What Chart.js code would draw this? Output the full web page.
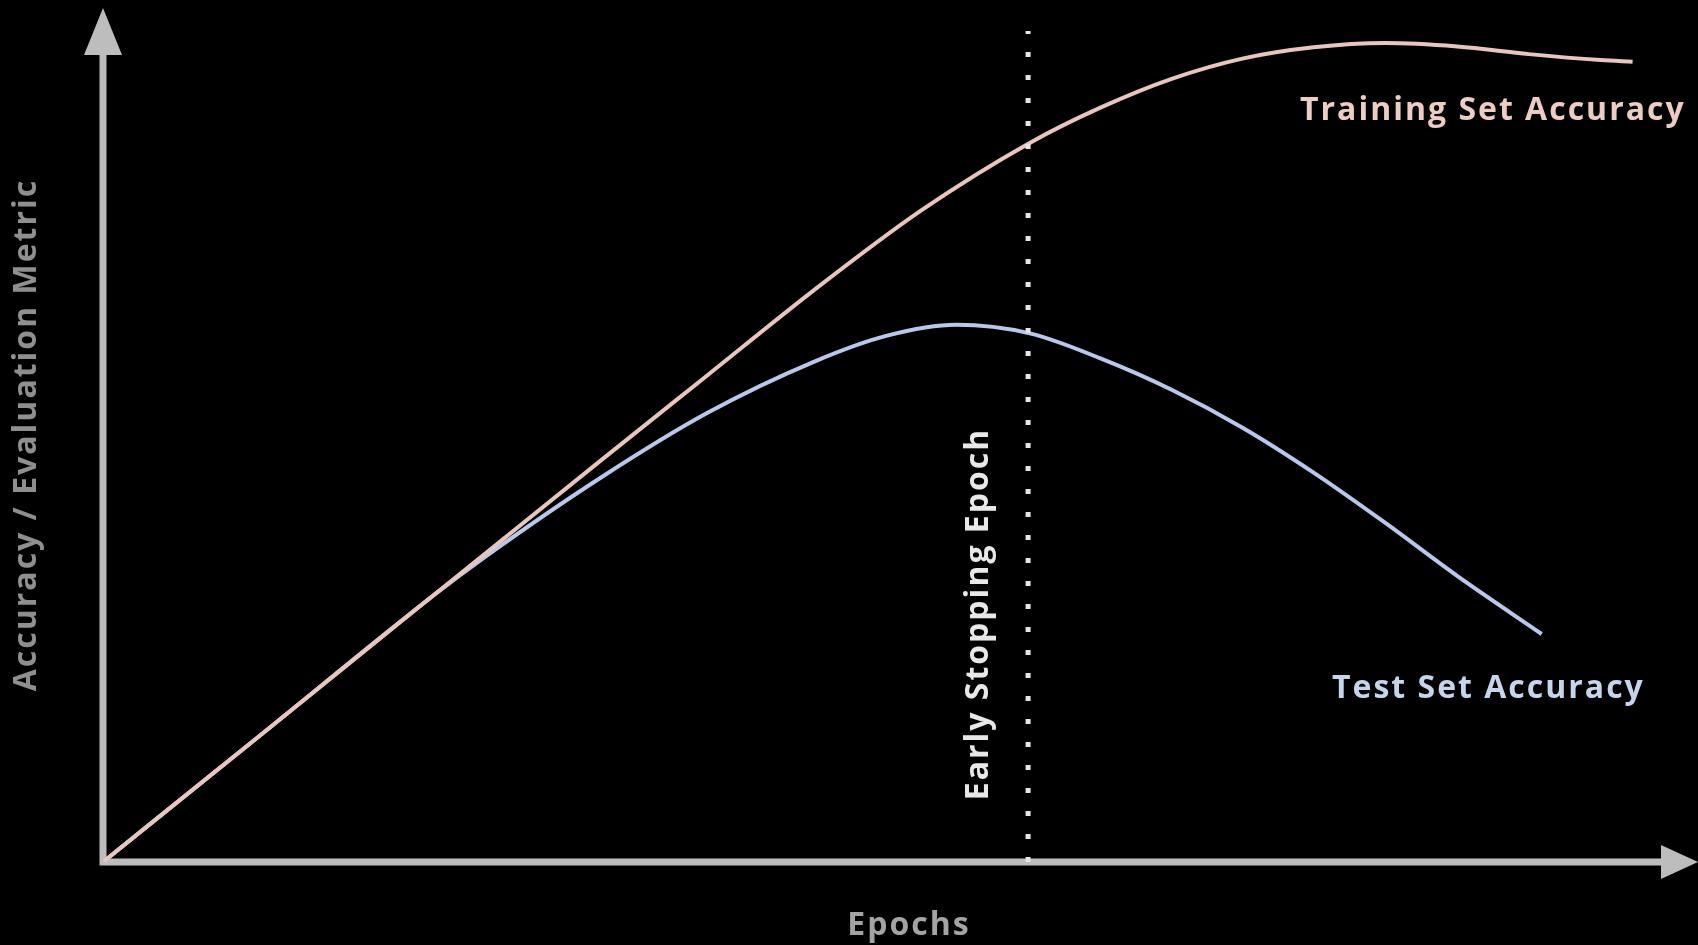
<!DOCTYPE html>
<html>
<head>
<meta charset="utf-8">
<script src="https://cdn.jsdelivr.net/npm/chart.js@4/dist/chart.umd.min.js"></script>
<style>
  html, body { margin: 0; padding: 0; background: #000; }
  #wrap { width: 1698px; height: 945px; position: relative; }
</style>
</head>
<body>
<div id="wrap"><canvas id="c" width="1698" height="945"></canvas></div>
<script>
// Training accuracy keeps climbing, test accuracy peaks and falls off (overfitting)
const trainEpochs = [0, 10, 20.7, 31.2, 37.9, 44.6, 51.3, 58.1, 62.5, 67.0, 71.5, 75.9, 80.4, 84.9, 89.4, 93.9, 95.9];
const trainAcc    = [0, 15.05, 31.2, 47.0, 57.0, 67.0, 76.3, 84.2, 88.3, 91.7, 94.1, 95.4, 95.9, 95.5, 94.6, 93.9, 93.7];

const testEpochs = [0, 10, 20.7, 24, 31.2, 37.9, 44.6, 49.1, 53.5, 58.1, 62.5, 67.0, 71.5, 75.9, 80.4, 84.9, 90.2];
const testAcc    = [0, 15.05, 31.2, 35.8, 45.0, 52.6, 58.6, 61.6, 62.9, 61.9, 59.0, 55.3, 50.8, 45.6, 39.7, 33.5, 26.7];

// Epoch at which training is stopped
const earlyStopEpoch = 58;
const earlyStopSpan = [0, 97.3];

const axisTitles = { x: 'Epochs', y: 'Accuracy / Evaluation Metric' };
const seriesNames = { train: 'Training Set Accuracy', test: 'Test Set Accuracy', stop: 'Early Stopping Epoch' };

const toPoints = (xs, ys) => xs.map((x, i) => ({ x, y: ys[i] }));

const TRAIN_COLOR = '#e9c6bd';
const TEST_COLOR = '#b9c8ea';
const AXIS_COLOR = '#bdbdbd';
const FONT = '"Open Sans", "DejaVu Sans", sans-serif';

// Axes with arrowheads plus the text labels
const decorations = {
  id: 'decorations',
  beforeDatasetsDraw(chart) {
    const { ctx, scales: { x, y } } = chart;
    const x0 = x.getPixelForValue(0), y0 = y.getPixelForValue(0);
    const xEnd = x.getPixelForValue(100), yEnd = y.getPixelForValue(100);
    ctx.save();
    ctx.strokeStyle = AXIS_COLOR;
    ctx.fillStyle = AXIS_COLOR;
    ctx.lineWidth = 7;
    ctx.lineCap = 'butt';
    ctx.beginPath();
    ctx.moveTo(x0, y0 + 3.5);
    ctx.lineTo(x0, yEnd + 45);
    ctx.moveTo(x0 - 3.5, y0);
    ctx.lineTo(xEnd - 35, y0);
    ctx.stroke();
    // y arrowhead
    ctx.beginPath();
    ctx.moveTo(x0, yEnd);
    ctx.lineTo(x0 - 19, yEnd + 47);
    ctx.lineTo(x0 + 19, yEnd + 47);
    ctx.closePath();
    ctx.fill();
    // x arrowhead
    ctx.beginPath();
    ctx.moveTo(xEnd, y0);
    ctx.lineTo(xEnd - 37, y0 - 17);
    ctx.lineTo(xEnd - 37, y0 + 17);
    ctx.closePath();
    ctx.fill();
    ctx.restore();
  },
  afterDraw(chart) {
    const { ctx, scales: { x } } = chart;
    ctx.save();
    ctx.font = `700 32px ${FONT}`;
    ctx.letterSpacing = '2px';
    ctx.textBaseline = 'middle';

    // x axis title
    ctx.fillStyle = '#a3a3a3';
    ctx.textAlign = 'center';
    ctx.fillText(axisTitles.x, 909, 926);

    // y axis title
    ctx.save();
    ctx.translate(27, 435);
    ctx.rotate(-Math.PI / 2);
    ctx.fillStyle = '#8f8f8f';
    ctx.fillText(axisTitles.y, 0, 0);
    ctx.restore();

    // early stopping label, beside the dotted line
    ctx.save();
    ctx.translate(x.getPixelForValue(earlyStopEpoch) - 49, 614);
    ctx.rotate(-Math.PI / 2);
    ctx.fillStyle = '#e8e8e8';
    ctx.fillText(seriesNames.stop, 0, 0);
    ctx.restore();

    // series labels
    ctx.textAlign = 'left';
    ctx.fillStyle = '#ecccc3';
    ctx.fillText(seriesNames.train, 1300, 111);
    ctx.fillStyle = '#c6d4ec';
    ctx.fillText(seriesNames.test, 1332, 689);
    ctx.restore();
  }
};

new Chart(document.getElementById('c'), {
  type: 'line',
  data: {
    datasets: [
      {
        label: seriesNames.stop,
        data: [{ x: earlyStopEpoch, y: earlyStopSpan[0] }, { x: earlyStopEpoch, y: earlyStopSpan[1] }],
        borderColor: '#e6e6e6',
        borderWidth: 5,
        borderDash: [5, 18],
        borderCapStyle: 'butt',
        pointRadius: 0,
        tension: 0
      },
      {
        label: seriesNames.train,
        data: toPoints(trainEpochs, trainAcc),
        borderColor: TRAIN_COLOR,
        borderWidth: 4,
        pointRadius: 0,
        cubicInterpolationMode: 'monotone'
      },
      {
        label: seriesNames.test,
        data: toPoints(testEpochs, testAcc),
        borderColor: TEST_COLOR,
        borderWidth: 4,
        pointRadius: 0,
        cubicInterpolationMode: 'monotone'
      }
    ]
  },
  options: {
    responsive: false,
    animation: false,
    devicePixelRatio: 1,
    layout: { padding: { left: 103, right: 0, top: 8, bottom: 83 } },
    plugins: { legend: { display: false }, tooltip: { enabled: false } },
    scales: {
      x: { type: 'linear', min: 0, max: 100, display: false },
      y: { type: 'linear', min: 0, max: 100, display: false }
    },
    elements: { line: { borderJoinStyle: 'round' } }
  },
  plugins: [decorations]
});
</script>
</body>
</html>
